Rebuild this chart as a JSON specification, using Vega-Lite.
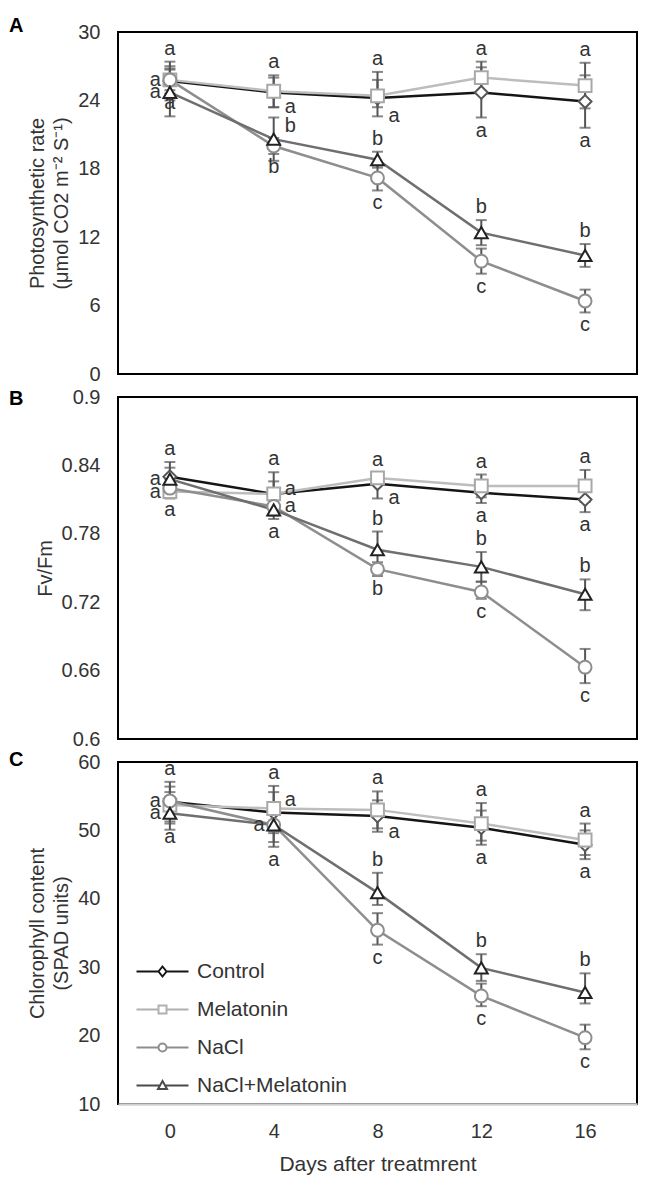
{
  "$schema": "https://vega.github.io/schema/vega-lite/v6.json",
  "padding": {"left": 8, "top": 15, "right": 5, "bottom": 5},
  "background": "white",
  "config": {
    "font": "Liberation Sans",
    "view": {"stroke": "#000000", "strokeWidth": 2},
    "axis": {"grid": false, "ticks": false, "domain": false, "labelFont": "Liberation Sans", "labelFontSize": 20, "labelColor": "#333333", "titleFont": "Liberation Sans", "titleFontSize": 20, "titleFontWeight": "normal", "titleColor": "#333333", "labelPadding": 18, "titlePadding": 6, "titleLineHeight": 24},
    "text": {"font": "Liberation Sans", "fontSize": 20, "color": "#333333"}
  },
  "datasets": {
    "d": [
      {"panel": "A", "treatment": "Control", "day": 0, "mean": 25.7, "lo": 24.0, "hi": 27.4, "letter": "a", "side": "above"},
      {"panel": "A", "treatment": "Control", "day": 4, "mean": 24.7, "lo": 23.4, "hi": 26.0, "letter": "a", "side": "rightlo"},
      {"panel": "A", "treatment": "Control", "day": 8, "mean": 24.2, "lo": 22.6, "hi": 25.8, "letter": "a", "side": "rightlo"},
      {"panel": "A", "treatment": "Control", "day": 12, "mean": 24.7, "lo": 22.5, "hi": 26.9, "letter": "a", "side": "below"},
      {"panel": "A", "treatment": "Control", "day": 16, "mean": 23.9, "lo": 21.6, "hi": 26.2, "letter": "a", "side": "below"},
      {"panel": "A", "treatment": "Melatonin", "day": 0, "mean": 25.8, "lo": 24.9, "hi": 26.7, "letter": "a", "side": "below"},
      {"panel": "A", "treatment": "Melatonin", "day": 4, "mean": 24.8, "lo": 23.4, "hi": 26.2, "letter": "a", "side": "above"},
      {"panel": "A", "treatment": "Melatonin", "day": 8, "mean": 24.4, "lo": 23.4, "hi": 26.5, "letter": "a", "side": "above"},
      {"panel": "A", "treatment": "Melatonin", "day": 12, "mean": 26.0, "lo": 24.6, "hi": 27.4, "letter": "a", "side": "above"},
      {"panel": "A", "treatment": "Melatonin", "day": 16, "mean": 25.3, "lo": 23.3, "hi": 27.3, "letter": "a", "side": "above"},
      {"panel": "A", "treatment": "NaCl", "day": 0, "mean": 25.8, "lo": 24.6, "hi": 27.0, "letter": "a", "side": "left"},
      {"panel": "A", "treatment": "NaCl", "day": 4, "mean": 20.0, "lo": 19.3, "hi": 20.7, "letter": "b", "side": "below"},
      {"panel": "A", "treatment": "NaCl", "day": 8, "mean": 17.2, "lo": 16.1, "hi": 18.3, "letter": "c", "side": "below"},
      {"panel": "A", "treatment": "NaCl", "day": 12, "mean": 9.9, "lo": 8.8, "hi": 11.0, "letter": "c", "side": "below"},
      {"panel": "A", "treatment": "NaCl", "day": 16, "mean": 6.4, "lo": 5.4, "hi": 7.4, "letter": "c", "side": "below"},
      {"panel": "A", "treatment": "NaCl+Melatonin", "day": 0, "mean": 24.7, "lo": 22.6, "hi": 26.8, "letter": "a", "side": "left"},
      {"panel": "A", "treatment": "NaCl+Melatonin", "day": 4, "mean": 20.6, "lo": 18.7, "hi": 22.5, "letter": "b", "side": "righthi"},
      {"panel": "A", "treatment": "NaCl+Melatonin", "day": 8, "mean": 18.8, "lo": 18.1, "hi": 19.5, "letter": "b", "side": "above"},
      {"panel": "A", "treatment": "NaCl+Melatonin", "day": 12, "mean": 12.4, "lo": 11.3, "hi": 13.5, "letter": "b", "side": "above"},
      {"panel": "A", "treatment": "NaCl+Melatonin", "day": 16, "mean": 10.4, "lo": 9.4, "hi": 11.4, "letter": "b", "side": "above"},

      {"panel": "B", "treatment": "Control", "day": 0, "mean": 0.830, "lo": 0.817, "hi": 0.843, "letter": "a", "side": "above"},
      {"panel": "B", "treatment": "Control", "day": 4, "mean": 0.815, "lo": 0.804, "hi": 0.826, "letter": "a", "side": "righthi"},
      {"panel": "B", "treatment": "Control", "day": 8, "mean": 0.824, "lo": 0.811, "hi": 0.834, "letter": "a", "side": "rightlo"},
      {"panel": "B", "treatment": "Control", "day": 12, "mean": 0.816, "lo": 0.807, "hi": 0.825, "letter": "a", "side": "below"},
      {"panel": "B", "treatment": "Control", "day": 16, "mean": 0.810, "lo": 0.799, "hi": 0.821, "letter": "a", "side": "below"},
      {"panel": "B", "treatment": "Melatonin", "day": 0, "mean": 0.817, "lo": 0.811, "hi": 0.823, "letter": "a", "side": "left"},
      {"panel": "B", "treatment": "Melatonin", "day": 4, "mean": 0.815, "lo": 0.796, "hi": 0.834, "letter": "a", "side": "above"},
      {"panel": "B", "treatment": "Melatonin", "day": 8, "mean": 0.829, "lo": 0.825, "hi": 0.833, "letter": "a", "side": "above"},
      {"panel": "B", "treatment": "Melatonin", "day": 12, "mean": 0.822, "lo": 0.812, "hi": 0.832, "letter": "a", "side": "above"},
      {"panel": "B", "treatment": "Melatonin", "day": 16, "mean": 0.822, "lo": 0.808, "hi": 0.836, "letter": "a", "side": "above"},
      {"panel": "B", "treatment": "NaCl", "day": 0, "mean": 0.820, "lo": 0.812, "hi": 0.828, "letter": "a", "side": "below"},
      {"panel": "B", "treatment": "NaCl", "day": 4, "mean": 0.804, "lo": 0.798, "hi": 0.810, "letter": "a", "side": "right"},
      {"panel": "B", "treatment": "NaCl", "day": 8, "mean": 0.749, "lo": 0.743, "hi": 0.755, "letter": "b", "side": "below"},
      {"panel": "B", "treatment": "NaCl", "day": 12, "mean": 0.729, "lo": 0.723, "hi": 0.738, "letter": "c", "side": "below"},
      {"panel": "B", "treatment": "NaCl", "day": 16, "mean": 0.663, "lo": 0.649, "hi": 0.679, "letter": "c", "side": "below"},
      {"panel": "B", "treatment": "NaCl+Melatonin", "day": 0, "mean": 0.828, "lo": 0.818, "hi": 0.838, "letter": "a", "side": "left"},
      {"panel": "B", "treatment": "NaCl+Melatonin", "day": 4, "mean": 0.801, "lo": 0.793, "hi": 0.809, "letter": "a", "side": "below"},
      {"panel": "B", "treatment": "NaCl+Melatonin", "day": 8, "mean": 0.766, "lo": 0.750, "hi": 0.782, "letter": "b", "side": "above"},
      {"panel": "B", "treatment": "NaCl+Melatonin", "day": 12, "mean": 0.751, "lo": 0.738, "hi": 0.764, "letter": "b", "side": "above"},
      {"panel": "B", "treatment": "NaCl+Melatonin", "day": 16, "mean": 0.727, "lo": 0.713, "hi": 0.740, "letter": "b", "side": "above"},

      {"panel": "C", "treatment": "Control", "day": 0, "mean": 54.2, "lo": 51.3, "hi": 57.1, "letter": "a", "side": "above"},
      {"panel": "C", "treatment": "Control", "day": 4, "mean": 52.6, "lo": 49.6, "hi": 55.6, "letter": "a", "side": "righthi"},
      {"panel": "C", "treatment": "Control", "day": 8, "mean": 52.1, "lo": 49.8, "hi": 54.4, "letter": "a", "side": "rightlo"},
      {"panel": "C", "treatment": "Control", "day": 12, "mean": 50.4, "lo": 47.9, "hi": 52.9, "letter": "a", "side": "below"},
      {"panel": "C", "treatment": "Control", "day": 16, "mean": 47.9, "lo": 45.8, "hi": 50.0, "letter": "a", "side": "below"},
      {"panel": "C", "treatment": "Melatonin", "day": 0, "mean": 53.7, "lo": 51.0, "hi": 56.4, "letter": "a", "side": "below"},
      {"panel": "C", "treatment": "Melatonin", "day": 4, "mean": 53.2, "lo": 49.9, "hi": 56.5, "letter": "a", "side": "above"},
      {"panel": "C", "treatment": "Melatonin", "day": 8, "mean": 53.0, "lo": 50.3, "hi": 55.7, "letter": "a", "side": "above"},
      {"panel": "C", "treatment": "Melatonin", "day": 12, "mean": 51.0, "lo": 48.5, "hi": 54.0, "letter": "a", "side": "above"},
      {"panel": "C", "treatment": "Melatonin", "day": 16, "mean": 48.6, "lo": 46.4, "hi": 51.0, "letter": "a", "side": "above"},
      {"panel": "C", "treatment": "NaCl", "day": 0, "mean": 54.3, "lo": 53.0, "hi": 55.6, "letter": "a", "side": "left"},
      {"panel": "C", "treatment": "NaCl", "day": 4, "mean": 50.8, "lo": 48.3, "hi": 53.3, "letter": "a", "side": "left"},
      {"panel": "C", "treatment": "NaCl", "day": 8, "mean": 35.4, "lo": 33.3, "hi": 37.9, "letter": "c", "side": "below"},
      {"panel": "C", "treatment": "NaCl", "day": 12, "mean": 25.8, "lo": 24.3, "hi": 27.6, "letter": "c", "side": "below"},
      {"panel": "C", "treatment": "NaCl", "day": 16, "mean": 19.7, "lo": 18.0, "hi": 21.6, "letter": "c", "side": "below"},
      {"panel": "C", "treatment": "NaCl+Melatonin", "day": 0, "mean": 52.5, "lo": 50.1, "hi": 54.9, "letter": "a", "side": "left"},
      {"panel": "C", "treatment": "NaCl+Melatonin", "day": 4, "mean": 50.8, "lo": 47.6, "hi": 54.0, "letter": "a", "side": "below"},
      {"panel": "C", "treatment": "NaCl+Melatonin", "day": 8, "mean": 40.9, "lo": 39.1, "hi": 43.8, "letter": "b", "side": "above"},
      {"panel": "C", "treatment": "NaCl+Melatonin", "day": 12, "mean": 29.9, "lo": 28.0, "hi": 31.9, "letter": "b", "side": "above"},
      {"panel": "C", "treatment": "NaCl+Melatonin", "day": 16, "mean": 26.3, "lo": 24.7, "hi": 29.1, "letter": "b", "side": "above"}
    ]
  },
  "spacing": 23,
  "bounds": "flush",
  "resolve": {
    "scale": {"y": "independent", "color": "independent", "shape": "independent", "stroke": "independent"},
    "legend": {"color": "independent", "shape": "independent", "stroke": "independent"}
  },
  "vconcat": [
    {
      "title": {"text": "A", "anchor": "start", "frame": "group", "dx": -109, "dy": 30, "offset": 0, "baseline": "alphabetic", "fontSize": 20, "fontWeight": "bold", "color": "#000000", "font": "Liberation Sans"},
      "width": 519, "height": 342,
      "data": {"name": "d"},
      "transform": [{"filter": "datum.panel == 'A'"}],
      "encoding": {"x": {"field": "day", "type": "ordinal", "sort": [0, 4, 8, 12, 16], "scale": {"type": "point", "padding": 0.5}, "axis": null}},
      "layer": [
        {"mark": {"type": "line", "strokeWidth": 2.5},
         "encoding": {
           "y": {"field": "mean", "type": "quantitative", "title": ["Photosynthetic rate", "(μmol CO2 m⁻² S⁻¹)"], "scale": {"domain": [0, 30]}, "axis": {"values": [0, 6, 12, 18, 24, 30]}},
           "color": {"field": "treatment", "type": "nominal", "scale": {"domain": ["Control", "Melatonin", "NaCl", "NaCl+Melatonin"], "range": ["#151515", "#bdbdbd", "#8e8e8e", "#6f6f6f"]}, "legend": null}}},
        {"mark": {"type": "errorbar", "ticks": {"size": 11}, "thickness": 2, "color": "#555555"},
         "encoding": {"y": {"field": "lo", "type": "quantitative", "title": ["Photosynthetic rate", "(μmol CO2 m⁻² S⁻¹)"]}, "y2": {"field": "hi"}, "detail": {"field": "treatment"}}},
        {"mark": {"type": "point", "filled": false, "fill": "white", "fillOpacity": 1, "opacity": 1, "strokeWidth": 2, "size": 165},
         "encoding": {"y": {"field": "mean", "type": "quantitative", "title": ["Photosynthetic rate", "(μmol CO2 m⁻² S⁻¹)"]},
           "shape": {"field": "treatment", "type": "nominal", "scale": {"domain": ["Control", "Melatonin", "NaCl", "NaCl+Melatonin"], "range": ["diamond", "square", "circle", "triangle-up"]}, "legend": null},
           "stroke": {"field": "treatment", "type": "nominal", "scale": {"domain": ["Control", "Melatonin", "NaCl", "NaCl+Melatonin"], "range": ["#555555", "#a8a8a8", "#8e8e8e", "#222222"]}, "legend": null}}},
        {"transform": [{"filter": "datum.side == 'above'"}], "mark": {"type": "text", "baseline": "bottom", "dy": -3}, "encoding": {"y": {"field": "hi", "type": "quantitative", "title": ["Photosynthetic rate", "(μmol CO2 m⁻² S⁻¹)"]}, "text": {"field": "letter"}}},
        {"transform": [{"filter": "datum.side == 'below'"}], "mark": {"type": "text", "baseline": "top", "dy": 3}, "encoding": {"y": {"field": "lo", "type": "quantitative", "title": ["Photosynthetic rate", "(μmol CO2 m⁻² S⁻¹)"]}, "text": {"field": "letter"}}},
        {"transform": [{"filter": "datum.side == 'left'"}], "mark": {"type": "text", "baseline": "middle", "align": "right", "dx": -9}, "encoding": {"y": {"field": "mean", "type": "quantitative", "title": ["Photosynthetic rate", "(μmol CO2 m⁻² S⁻¹)"]}, "text": {"field": "letter"}}},
        {"transform": [{"filter": "datum.side == 'right'"}], "mark": {"type": "text", "baseline": "middle", "align": "left", "dx": 11}, "encoding": {"y": {"field": "mean", "type": "quantitative", "title": ["Photosynthetic rate", "(μmol CO2 m⁻² S⁻¹)"]}, "text": {"field": "letter"}}},
        {"transform": [{"filter": "datum.side == 'rightlo'"}], "mark": {"type": "text", "baseline": "middle", "align": "left", "dx": 11}, "encoding": {"y": {"field": "lo", "type": "quantitative", "title": ["Photosynthetic rate", "(μmol CO2 m⁻² S⁻¹)"]}, "text": {"field": "letter"}}},
        {"transform": [{"filter": "datum.side == 'righthi'"}], "mark": {"type": "text", "baseline": "middle", "align": "left", "dx": 11, "dy": 8}, "encoding": {"y": {"field": "hi", "type": "quantitative", "title": ["Photosynthetic rate", "(μmol CO2 m⁻² S⁻¹)"]}, "text": {"field": "letter"}}}
      ]
    },
    {
      "title": {"text": "B", "anchor": "start", "frame": "group", "dx": -109, "dy": 38, "offset": 0, "baseline": "alphabetic", "fontSize": 20, "fontWeight": "bold", "color": "#000000", "font": "Liberation Sans"},
      "width": 519, "height": 342,
      "data": {"name": "d"},
      "transform": [{"filter": "datum.panel == 'B'"}],
      "encoding": {"x": {"field": "day", "type": "ordinal", "sort": [0, 4, 8, 12, 16], "scale": {"type": "point", "padding": 0.5}, "axis": null}},
      "layer": [
        {"mark": {"type": "line", "strokeWidth": 2.5},
         "encoding": {
           "y": {"field": "mean", "type": "quantitative", "title": "Fv/Fm", "scale": {"domain": [0.6, 0.9]}, "axis": {"values": [0.6, 0.66, 0.72, 0.78, 0.84, 0.9], "format": ".2~f"}},
           "color": {"field": "treatment", "type": "nominal", "scale": {"domain": ["Control", "Melatonin", "NaCl", "NaCl+Melatonin"], "range": ["#151515", "#bdbdbd", "#8e8e8e", "#6f6f6f"]}, "legend": null}}},
        {"mark": {"type": "errorbar", "ticks": {"size": 11}, "thickness": 2, "color": "#555555"},
         "encoding": {"y": {"field": "lo", "type": "quantitative", "title": "Fv/Fm"}, "y2": {"field": "hi"}, "detail": {"field": "treatment"}}},
        {"mark": {"type": "point", "filled": false, "fill": "white", "fillOpacity": 1, "opacity": 1, "strokeWidth": 2, "size": 165},
         "encoding": {"y": {"field": "mean", "type": "quantitative", "title": "Fv/Fm"},
           "shape": {"field": "treatment", "type": "nominal", "scale": {"domain": ["Control", "Melatonin", "NaCl", "NaCl+Melatonin"], "range": ["diamond", "square", "circle", "triangle-up"]}, "legend": null},
           "stroke": {"field": "treatment", "type": "nominal", "scale": {"domain": ["Control", "Melatonin", "NaCl", "NaCl+Melatonin"], "range": ["#555555", "#a8a8a8", "#8e8e8e", "#222222"]}, "legend": null}}},
        {"transform": [{"filter": "datum.side == 'above'"}], "mark": {"type": "text", "baseline": "bottom", "dy": -3}, "encoding": {"y": {"field": "hi", "type": "quantitative", "title": "Fv/Fm"}, "text": {"field": "letter"}}},
        {"transform": [{"filter": "datum.side == 'below'"}], "mark": {"type": "text", "baseline": "top", "dy": 3}, "encoding": {"y": {"field": "lo", "type": "quantitative", "title": "Fv/Fm"}, "text": {"field": "letter"}}},
        {"transform": [{"filter": "datum.side == 'left'"}], "mark": {"type": "text", "baseline": "middle", "align": "right", "dx": -9}, "encoding": {"y": {"field": "mean", "type": "quantitative", "title": "Fv/Fm"}, "text": {"field": "letter"}}},
        {"transform": [{"filter": "datum.side == 'right'"}], "mark": {"type": "text", "baseline": "middle", "align": "left", "dx": 11}, "encoding": {"y": {"field": "mean", "type": "quantitative", "title": "Fv/Fm"}, "text": {"field": "letter"}}},
        {"transform": [{"filter": "datum.side == 'rightlo'"}], "mark": {"type": "text", "baseline": "middle", "align": "left", "dx": 11}, "encoding": {"y": {"field": "lo", "type": "quantitative", "title": "Fv/Fm"}, "text": {"field": "letter"}}},
        {"transform": [{"filter": "datum.side == 'righthi'"}], "mark": {"type": "text", "baseline": "middle", "align": "left", "dx": 11, "dy": 8}, "encoding": {"y": {"field": "hi", "type": "quantitative", "title": "Fv/Fm"}, "text": {"field": "letter"}}}
      ]
    },
    {
      "title": {"text": "C", "anchor": "start", "frame": "group", "dx": -109, "dy": 34, "offset": 0, "baseline": "alphabetic", "fontSize": 20, "fontWeight": "bold", "color": "#000000", "font": "Liberation Sans"},
      "width": 519, "height": 342,
      "data": {"name": "d"},
      "transform": [{"filter": "datum.panel == 'C'"}],
      "encoding": {"x": {"field": "day", "type": "ordinal", "sort": [0, 4, 8, 12, 16], "scale": {"type": "point", "padding": 0.5},
        "axis": {"title": "Days after treatmrent", "labelAngle": 0, "domain": true, "domainColor": "#d0d0d0", "domainWidth": 2.5, "labelPadding": 17, "titlePadding": 12, "titleFontSize": 21, "zindex": 1}}},
      "resolve": {"scale": {"shape": "independent", "color": "independent"}},
      "layer": [
        {"mark": {"type": "line", "strokeWidth": 2.5},
         "encoding": {
           "y": {"field": "mean", "type": "quantitative", "title": ["Chlorophyll content", "(SPAD units)"], "scale": {"domain": [10, 60]}, "axis": {"values": [10, 20, 30, 40, 50, 60]}},
           "color": {"field": "treatment", "type": "nominal", "scale": {"domain": ["Control", "Melatonin", "NaCl", "NaCl+Melatonin"], "range": ["#151515", "#bdbdbd", "#8e8e8e", "#6f6f6f"]}, "legend": null}}},
        {"mark": {"type": "errorbar", "ticks": {"size": 11}, "thickness": 2, "color": "#555555"},
         "encoding": {"y": {"field": "lo", "type": "quantitative", "title": ["Chlorophyll content", "(SPAD units)"]}, "y2": {"field": "hi"}, "detail": {"field": "treatment"}}},
        {"mark": {"type": "point", "filled": false, "fill": "white", "fillOpacity": 1, "opacity": 1, "strokeWidth": 2, "size": 165},
         "encoding": {"y": {"field": "mean", "type": "quantitative", "title": ["Chlorophyll content", "(SPAD units)"]},
           "shape": {"field": "treatment", "type": "nominal", "scale": {"domain": ["Control", "Melatonin", "NaCl", "NaCl+Melatonin"], "range": ["diamond", "square", "circle", "triangle-up"]}, "legend": null},
           "stroke": {"field": "treatment", "type": "nominal", "scale": {"domain": ["Control", "Melatonin", "NaCl", "NaCl+Melatonin"], "range": ["#555555", "#a8a8a8", "#8e8e8e", "#222222"]}, "legend": null}}},
        {"mark": {"type": "point", "filled": false, "opacity": 0, "strokeWidth": 2, "size": 100},
         "encoding": {"y": {"field": "mean", "type": "quantitative", "title": ["Chlorophyll content", "(SPAD units)"]},
           "shape": {"field": "treatment", "type": "nominal", "scale": {"domain": ["Control", "Melatonin", "NaCl", "NaCl+Melatonin"], "range": ["M-5.2,0L-0.8,0M0.8,0L5.2,0M0,-1L0.8,0L0,1L-0.8,0Z", "M-5.2,0L-0.8,0M0.8,0L5.2,0M-0.8,-0.8L0.8,-0.8L0.8,0.8L-0.8,0.8Z", "M-5.2,0L-0.8,0M0.8,0L5.2,0M0.8,0A0.8,0.8,0,1,1,-0.8,0A0.8,0.8,0,1,1,0.8,0Z", "M-5.2,0L-0.5,0M0.5,0L5.2,0M0,-0.9L0.9,0.7L-0.9,0.7Z"]},
             "legend": {"orient": "none", "legendX": 34, "legendY": 199, "title": null, "labelFont": "Liberation Sans", "labelFontSize": 21, "labelColor": "#333333", "rowPadding": 16, "symbolSize": 100, "labelOffset": 24, "symbolStrokeWidth": 2, "symbolFillColor": "white", "symbolOpacity": 1}},
           "color": {"field": "treatment", "type": "nominal", "scale": {"domain": ["Control", "Melatonin", "NaCl", "NaCl+Melatonin"], "range": ["#151515", "#b0b0b0", "#8e8e8e", "#4a4a4a"]},
             "legend": {"orient": "none", "legendX": 34, "legendY": 199, "title": null, "labelFont": "Liberation Sans", "labelFontSize": 21, "labelColor": "#333333", "rowPadding": 16, "symbolSize": 100, "labelOffset": 24, "symbolStrokeWidth": 2, "symbolFillColor": "white", "symbolOpacity": 1}}}},
        {"transform": [{"filter": "datum.side == 'above'"}], "mark": {"type": "text", "baseline": "bottom", "dy": -3}, "encoding": {"y": {"field": "hi", "type": "quantitative", "title": ["Chlorophyll content", "(SPAD units)"]}, "text": {"field": "letter"}}},
        {"transform": [{"filter": "datum.side == 'below'"}], "mark": {"type": "text", "baseline": "top", "dy": 3}, "encoding": {"y": {"field": "lo", "type": "quantitative", "title": ["Chlorophyll content", "(SPAD units)"]}, "text": {"field": "letter"}}},
        {"transform": [{"filter": "datum.side == 'left'"}], "mark": {"type": "text", "baseline": "middle", "align": "right", "dx": -9}, "encoding": {"y": {"field": "mean", "type": "quantitative", "title": ["Chlorophyll content", "(SPAD units)"]}, "text": {"field": "letter"}}},
        {"transform": [{"filter": "datum.side == 'right'"}], "mark": {"type": "text", "baseline": "middle", "align": "left", "dx": 11}, "encoding": {"y": {"field": "mean", "type": "quantitative", "title": ["Chlorophyll content", "(SPAD units)"]}, "text": {"field": "letter"}}},
        {"transform": [{"filter": "datum.side == 'rightlo'"}], "mark": {"type": "text", "baseline": "middle", "align": "left", "dx": 11}, "encoding": {"y": {"field": "lo", "type": "quantitative", "title": ["Chlorophyll content", "(SPAD units)"]}, "text": {"field": "letter"}}},
        {"transform": [{"filter": "datum.side == 'righthi'"}], "mark": {"type": "text", "baseline": "middle", "align": "left", "dx": 11, "dy": 8}, "encoding": {"y": {"field": "hi", "type": "quantitative", "title": ["Chlorophyll content", "(SPAD units)"]}, "text": {"field": "letter"}}}
      ]
    }
  ]
}
